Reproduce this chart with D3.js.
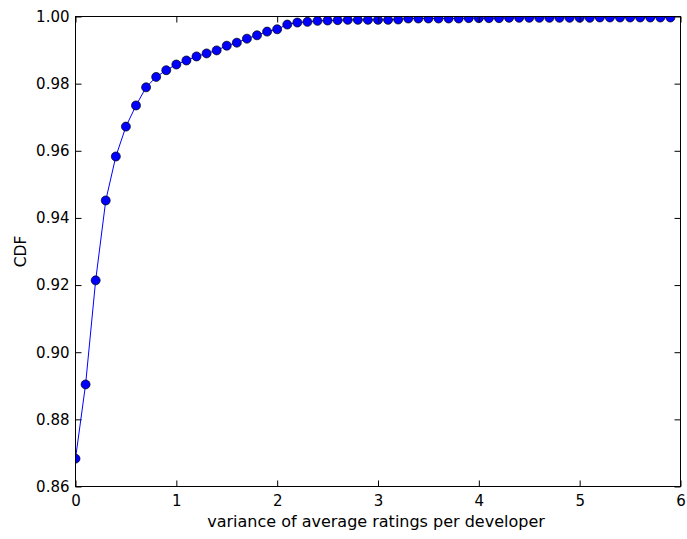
<!DOCTYPE html>
<html><head><meta charset="utf-8">
<script src="https://cdn.jsdelivr.net/npm/d3@7"></script>
<style>body{margin:0;background:#fff}svg{display:block}text{font-family:"DejaVu Sans",sans-serif}</style>
</head><body><svg id="c" width="687" height="539"></svg>
<script>
const xValues = [0,0.1,0.2,0.3,0.4,0.5,0.6,0.7,0.8,0.9,1.0,1.1,1.2,1.3,1.4,1.5,1.6,1.7,1.8,1.9,2.0,2.1,2.2,2.3,2.4,2.5,2.6,2.7,2.8,2.9,3.0,3.1,3.2,3.3,3.4,3.5,3.6,3.7,3.8,3.9,4.0,4.1,4.2,4.3,4.4,4.5,4.6,4.7,4.8,4.9,5.0,5.1,5.2,5.3,5.4,5.5,5.6,5.7,5.8,5.9];
const cdfValues = [0.8683,0.8904,0.9214,0.9452,0.9583,0.9672,0.9735,0.9789,0.9820,0.9840,0.9857,0.9869,0.9881,0.9890,0.9899,0.9913,0.9922,0.9934,0.9944,0.9955,0.9962,0.9976,0.9982,0.9984,0.9987,0.9988,0.9989,0.9990,0.9990,0.9990,0.9990,0.9990,0.9991,0.9994,0.9994,0.9994,0.9994,0.9994,0.9994,0.9995,0.9995,0.9995,0.9995,0.9996,0.9996,0.9996,0.9996,0.9996,0.9996,0.9996,0.9996,0.9996,0.9997,0.9997,0.9997,0.9997,0.9997,0.9997,0.9997,0.9997];
const xTicks = [0,1,2,3,4,5,6];
const yTicks = [0.86,0.88,0.90,0.92,0.94,0.96,0.98,1.00];
const xLabel = "variance of average ratings per developer";
const yLabel = "CDF";

const svg = d3.select("#c");
const L=75.5, R=680.5, T=16.5, B=486.5;
const x = d3.scaleLinear().domain([0,6]).range([L,R]);
const y = d3.scaleLinear().domain([0.86,1.0]).range([B,T]);
const data = xValues.map((v,i)=>({x:v,y:cdfValues[i]}));

svg.append("defs").append("clipPath").attr("id","clip")
  .append("rect").attr("x",L).attr("y",T).attr("width",R-L).attr("height",B-T);

const plot = svg.append("g").attr("clip-path","url(#clip)");
plot.append("path").datum(data)
  .attr("fill","none").attr("stroke","#0000ff").attr("stroke-width",1)
  .attr("d", d3.line().x(d=>x(d.x)).y(d=>y(d.y)));
plot.selectAll("circle").data(data).enter().append("circle")
  .attr("cx",d=>x(d.x)).attr("cy",d=>y(d.y)).attr("r",4.5)
  .attr("fill","#0000ff").attr("stroke","#000").attr("stroke-width",0.7);

// frame
svg.append("rect").attr("x",L).attr("y",T).attr("width",R-L).attr("height",B-T)
  .attr("fill","none").attr("stroke","#000").attr("stroke-width",1);

const fs = 15;
const gx = svg.append("g").attr("transform",`translate(0,${B})`)
  .call(d3.axisBottom(x).tickValues(xTicks).tickFormat(d3.format("d")).tickSize(-6).tickPadding(6));
const gxt = svg.append("g").attr("transform",`translate(0,${T})`)
  .call(d3.axisTop(x).tickValues(xTicks).tickFormat("").tickSize(-6));
const gy = svg.append("g").attr("transform",`translate(${L},0)`)
  .call(d3.axisLeft(y).tickValues(yTicks).tickFormat(d3.format(".2f")).tickSize(-6).tickPadding(6));
const gyr = svg.append("g").attr("transform",`translate(${R},0)`)
  .call(d3.axisRight(y).tickValues(yTicks).tickFormat("").tickSize(-6));
[gx,gxt,gy,gyr].forEach(g=>{
  g.select(".domain").remove();
  g.selectAll("line").attr("stroke","#000");
  g.selectAll("text").attr("font-size",fs).attr("fill","#000").style("font-family","DejaVu Sans");
});
gx.selectAll("text").attr("dy","0.9em");

svg.append("text").attr("x",376).attr("y",526.5).attr("text-anchor","middle")
  .attr("font-size",16).text(xLabel);
svg.append("text").attr("transform",`translate(25.5,${(T+B)/2}) rotate(-90)`)
  .attr("text-anchor","middle").attr("font-size",15.5).text(yLabel);
</script></body></html>
